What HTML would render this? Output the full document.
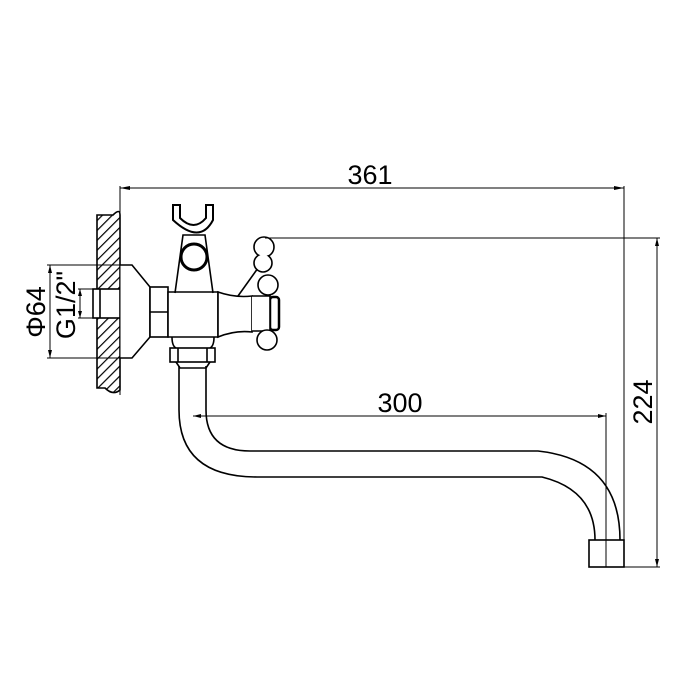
<!DOCTYPE html>
<html><head><meta charset="utf-8"><style>body{margin:0;background:#fff}svg{display:block}</style></head>
<body>
<svg width="700" height="700" viewBox="0 0 700 700" xmlns="http://www.w3.org/2000/svg">
<defs>
<pattern id="h" width="7" height="7" patternUnits="userSpaceOnUse" patternTransform="rotate(45)">
<line x1="0" y1="0" x2="0" y2="7" stroke="#000" stroke-width="2.4"/>
</pattern>
</defs>
<g fill="none" stroke="#000" stroke-width="1.6">
<!-- wall -->
<path d="M97,215 L113,215 Q120,208 120,215 L120,390 Q113,396 105,388 L97,388 Z" fill="url(#h)"/>
<rect x="93" y="289" width="27" height="29" fill="#fff"/>
<line x1="100" y1="289" x2="100" y2="318"/>
<!-- flange -->
<path d="M120,265 L132,265 L150,287 L150,337 L132,358 L120,358" fill="#fff"/>
<line x1="47" y1="265" x2="132" y2="265" stroke-width="1"/>
<line x1="47" y1="358" x2="132" y2="358" stroke-width="1"/>
<line x1="50" y1="265" x2="50" y2="358" stroke-width="1"/>
<line x1="78" y1="289" x2="120" y2="289" stroke-width="1"/>
<line x1="78" y1="318" x2="120" y2="318" stroke-width="1"/>
<line x1="80" y1="289" x2="80" y2="318" stroke-width="1"/>
<!-- hex nut -->
<rect x="150" y="287" width="18" height="50" fill="#fff"/>
<line x1="150" y1="312" x2="168" y2="312"/>
<!-- body -->
<path d="M168,292 L218,292 L218,337 L168,337 Z" fill="#fff"/>
<path d="M175,293 L183,235 L205,235 L213,293"/>
<circle cx="194" cy="257" r="13" stroke-width="3"/>
<path d="M173,205 L180,205 L180,218 Q194,232 206,218 L206,205 L213,205 L213,220 Q200,245 173,220 Z" stroke-width="2"/>
<path d="M172,337 Q172,346 176,348 M214,337 Q214,346 210,348"/>
<rect x="170" y="348" width="45" height="14" fill="#fff"/>
<line x1="178" y1="348" x2="178" y2="362"/><line x1="207" y1="348" x2="207" y2="362"/>
<path d="M176,362 L180,368 L206,368 L210,362"/>
<!-- handle -->
<path d="M218,292 Q235,298 252,296 L252,332 Q235,330 218,337 Z" fill="#fff"/>
<line x1="238" y1="296" x2="258" y2="268"/>
<rect x="270" y="297" width="9" height="33" rx="3" stroke-width="2.5" fill="#fff"/>
<path d="M252,296 L270,296 L270,331 L252,331" fill="#fff"/>
<circle cx="264" cy="247" r="10" fill="#fff"/>
<circle cx="263" cy="263" r="9" fill="#fff"/>
<circle cx="264" cy="247" r="9" fill="#fff" stroke="none"/>
<circle cx="268" cy="285" r="10" fill="#fff"/>
<circle cx="267" cy="340" r="10" fill="#fff"/>
<!-- pipe -->
<path d="M179,366 L179,410 Q179,477 257,477 L542,477 Q595,490 595,540"/>
<path d="M206,366 L206,410 Q206,451 250,451 L538,451 Q620,460 620,540"/>
<rect x="589" y="540" width="35" height="27"/>
<!-- dimension lines -->
<g stroke-width="1">
<line x1="120" y1="186" x2="120" y2="395"/>
<line x1="624" y1="186" x2="624" y2="567"/>
<line x1="120" y1="188" x2="624" y2="188"/>
<line x1="193" y1="416" x2="606" y2="416"/>
<line x1="606" y1="413" x2="606" y2="567"/>
<line x1="265" y1="238" x2="660" y2="238"/>
<line x1="589" y1="567" x2="660" y2="567"/>
<line x1="657" y1="238" x2="657" y2="567"/>
</g>
</g>
<g fill="#000">
<path d="M120,188 L130,186 L130,190 Z"/><path d="M624,188 L614,186 L614,190 Z"/>
<path d="M193,416 L201,414 L201,418 Z"/><path d="M606,416 L598,414 L598,418 Z"/>
<path d="M657,238 L655,246 L659,246 Z"/><path d="M657,567 L655,559 L659,559 Z"/>
<path d="M50,265 L48,273 L52,273 Z"/><path d="M50,358 L48,350 L52,350 Z"/>
<path d="M80,289 L78,296 L82,296 Z"/><path d="M80,318 L78,311 L82,311 Z"/>
</g>
<g font-family="Liberation Sans, sans-serif" font-size="27" fill="#000">
<text x="370" y="184" text-anchor="middle">361</text>
<text x="400" y="412" text-anchor="middle">300</text>
<text transform="translate(652,402) rotate(-90)" text-anchor="middle">224</text>
<text transform="translate(45,312) rotate(-90)" text-anchor="middle">Φ64</text>
<text transform="translate(75,305) rotate(-90)" text-anchor="middle">G1/2"</text>
</g>
</svg>
</body></html>
